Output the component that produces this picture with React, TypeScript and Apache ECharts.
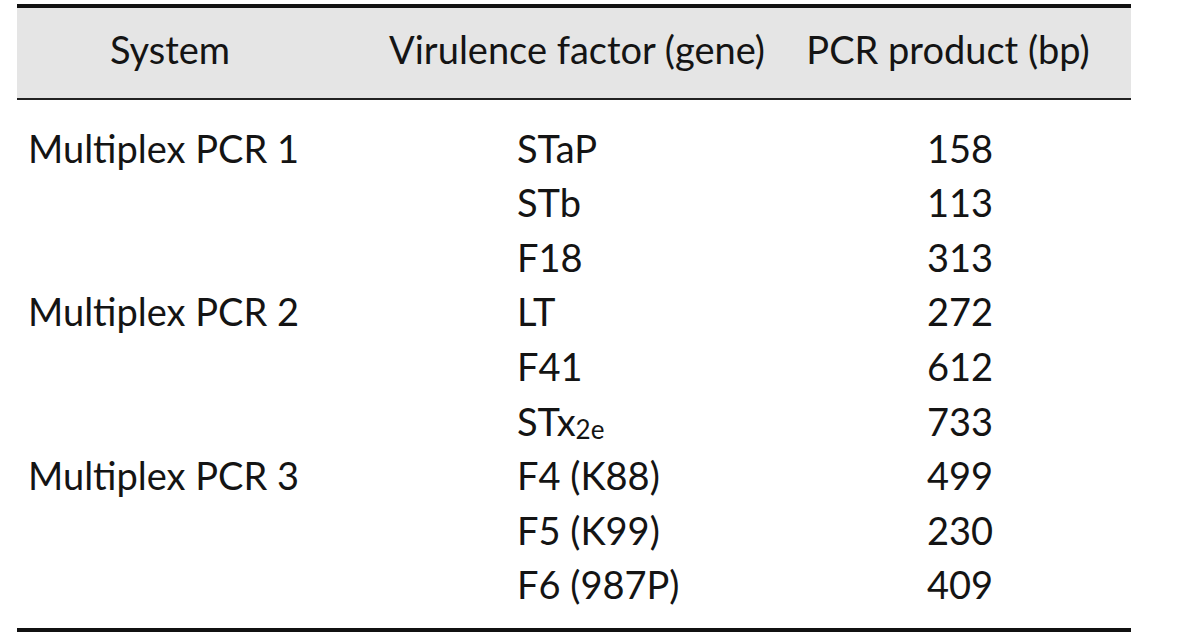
import React, { useEffect, useRef } from "react";
import * as echarts from "echarts";

const headers = ["System", "Virulence factor (gene)", "PCR product (bp)"];
const systems = ["Multiplex PCR 1", "", "", "Multiplex PCR 2", "", "", "Multiplex PCR 3", "", ""];
const genes = ["STaP", "STb", "F18", "LT", "F41", "STx{sub|2e}", "F4 (K88)", "F5 (K99)", "F6 (987P)"];
const products = [158, 113, 313, 272, 612, 733, 499, 230, 409];

export default function App() {
  const ref = useRef<HTMLDivElement>(null);
  useEffect(() => {
    const chart = echarts.init(ref.current!, null, { renderer: "svg" });
    const font = "Lato";
    const fs = 38;
    const color = "#141414";
    const left = 17;
    const right = 1131;
    const row0 = 147.5;
    const rowH = 54.6;
    const elements: any[] = [];
    elements.push({ type: "rect", shape: { x: left, y: 6, width: right - left, height: 92 }, style: { fill: "#e5e5e5" } });
    elements.push({ type: "rect", shape: { x: left, y: 4, width: right - left, height: 4 }, style: { fill: "#111" } });
    elements.push({ type: "rect", shape: { x: left, y: 98, width: right - left, height: 2 }, style: { fill: "#222" } });
    elements.push({ type: "rect", shape: { x: left, y: 628, width: right - left, height: 4 }, style: { fill: "#111" } });
    const hx = [170, 577, 948];
    headers.forEach((h, i) => {
      elements.push({ type: "text", x: hx[i], y: 49, style: { text: h, font: `${fs}px ${font}`, fill: color, textAlign: "center", textVerticalAlign: "middle" } });
    });
    systems.forEach((s, i) => {
      if (!s) return;
      elements.push({ type: "text", x: 28, y: row0 + i * rowH, style: { text: s, font: `${fs}px ${font}`, fill: color, textAlign: "left", textVerticalAlign: "middle" } });
    });
    genes.forEach((g, i) => {
      elements.push({
        type: "text", x: 517, y: row0 + i * rowH,
        style: {
          text: g, font: `${fs}px ${font}`, fill: color, textAlign: "left", textVerticalAlign: "middle",
          rich: { sub: { fontSize: 26, fontFamily: font, fill: color, padding: [16, 0, 0, 0] } },
        },
      });
    });
    products.forEach((p, i) => {
      elements.push({ type: "text", x: 993, y: row0 + i * rowH, style: { text: String(p), font: `${fs}px ${font}`, fill: color, textAlign: "right", textVerticalAlign: "middle" } });
    });
    chart.setOption({ animation: false, backgroundColor: "#fff", graphic: { elements } });
    return () => chart.dispose();
  }, []);
  return <div ref={ref} style={{ position: "absolute", left: 0, top: 0, width: 1200, height: 641 }} />;
}
